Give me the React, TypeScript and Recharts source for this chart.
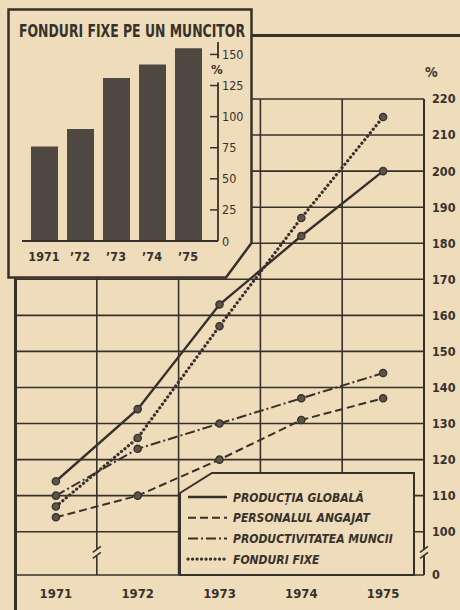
import React from 'react';
import {
  LineChart, Line, XAxis, YAxis, CartesianGrid, ReferenceLine, ReferenceDot, Legend,
  BarChart, Bar,
} from 'recharts';

// values (index, 1971 = 100)
const years = [1971, 1972, 1973, 1974, 1975];
const productiaGlobala = [114, 134, 163, 182, 200];
const personalulAngajat = [104, 110, 120, 131, 137];
const productivitateaMuncii = [110, 123, 130, 137, 144];
const fonduriFixe = [107, 126, 157, 187, 215];

// y axis is broken between 0 and 100: the "0" sits at 88 on the linear scale
const mainTicks = [88, 100, 110, 120, 130, 140, 150, 160, 170, 180, 190, 200, 210, 220];
const yearBorders = [1971.5, 1972.5, 1973.5, 1974.5];

// inset: fonduri fixe pe un muncitor
const insetLabels = ['1971', '’72', '’73', '’74', '’75'];
const fonduriPeMuncitor = [76, 90, 131, 142, 155];
const insetTicks = [0, 25, 50, 75, 100, 125, 150];

const INK = '#37312b';
const PAPER = '#eedcbb';
const FONT = "'DejaVu Sans Condensed', 'DejaVu Sans', sans-serif";

const series = [
  { key: 'productia', name: 'PRODUCȚIA GLOBALĂ', dash: undefined, width: 2.4, cap: 'butt' },
  { key: 'personalul', name: 'PERSONALUL ANGAJAT', dash: '8 4', width: 2, cap: 'butt' },
  { key: 'productivitatea', name: 'PRODUCTIVITATEA MUNCII', dash: '10 3 2 3', width: 2, cap: 'butt' },
  { key: 'fonduri', name: 'FONDURI FIXE', dash: '0.1 4.4', width: 3.2, cap: 'round' },
];

const mainData = years.map((year, i) => ({
  year,
  productia: productiaGlobala[i],
  personalul: personalulAngajat[i],
  productivitatea: productivitateaMuncii[i],
  fonduri: fonduriFixe[i],
}));

const insetData = insetLabels.map((label, i) => ({ label, value: fonduriPeMuncitor[i] }));

const Marker = (props: any) => {
  const { cx, cy } = props;
  if (cx == null || cy == null) return null;
  return <circle key={`${cx}-${cy}`} cx={cx} cy={cy} r={3.6} fill="#5d554d" stroke={INK} strokeWidth={1.4} />;
};

const BreakMark = (props: any) => {
  const { cx, cy } = props;
  return (
    <g>
      <rect x={cx - 3} y={cy - 4} width={6} height={6} fill={PAPER} />
      <path d={`M${cx - 4},${cy - 1} L${cx + 4},${cy - 7}`} stroke={INK} strokeWidth={1.5} />
      <path d={`M${cx - 4},${cy + 5} L${cx + 4},${cy - 1}`} stroke={INK} strokeWidth={1.5} />
    </g>
  );
};

const LegendBox = () => (
  <svg width={236} height={104} style={{ display: 'block' }}>
    <polygon points="1,21 33,1 235,1 235,103 1,103" fill={PAPER} stroke={INK} strokeWidth={2} />
    {series.map((s, i) => {
      const y = 25 + i * 20.7;
      return (
        <g key={s.key}>
          <line x1={9} x2={48} y1={y} y2={y} stroke={INK} strokeWidth={s.width}
            strokeDasharray={s.dash} strokeLinecap={s.cap as any} />
          <text x={54} y={y + 4.5} fontFamily={FONT} fontSize={12} fontWeight="bold"
            fontStyle="italic" fill={INK}>{s.name}</text>
        </g>
      );
    })}
  </svg>
);

// ticks point inwards; the axis stops at 125 and the % sign sits above it
const InsetTick = (props: any) => {
  const { x, y, payload } = props;
  const top = payload.value === 150;
  return (
    <g>
      {top && <rect x={x - 9} y={y + 3} width={8} height={25} fill={PAPER} />}
      <line x1={x - 12} x2={x - 4} y1={y} y2={y} stroke={INK} strokeWidth={1.5} />
      {top && <line x1={x - 4} x2={x - 4} y1={y} y2={y + 4} stroke={INK} strokeWidth={1.5} />}
      <text x={x} y={y + 4.5} fontFamily={FONT} fontSize={12.5} fill={INK}>{payload.value}</text>
      {top && <text x={x - 11} y={y + 20} fontFamily={FONT} fontSize={13} fontWeight="bold" fill={INK}>%</text>}
    </g>
  );
};

const Inset = () => (
  <div style={{ position: 'absolute', left: 7, top: 8, width: 246, height: 271 }}>
    <svg width={290} height={271} style={{ position: 'absolute', left: 0, top: 0 }}>
      <polygon points="1.5,1.5 244.5,1.5 244.5,235 219,269.5 1.5,269.5" fill={PAPER} stroke={INK} strokeWidth={2.5} />
      <text x={12} y={25.5} transform="scale(1,1.14)" textLength={226} lengthAdjust="spacingAndGlyphs"
        fontFamily={FONT} fontSize={15} fontWeight="bold" fill={INK}>FONDURI FIXE PE UN MUNCITOR</text>
    </svg>
    <div style={{ position: 'absolute', left: 0, top: 0 }}>
      <BarChart width={246} height={271} data={insetData} margin={{ top: 34, right: 0, bottom: 0, left: 15 }}>
        <XAxis dataKey="label" height={38} padding={{ left: 4, right: 12 }} tickLine={false} tickSize={0}
          tickMargin={11} axisLine={{ stroke: INK, strokeWidth: 2 }}
          tick={{ fill: INK, fontFamily: FONT, fontSize: 12.5, fontWeight: 'bold' }} />
        <YAxis orientation="right" width={35} domain={[0, 160]} ticks={insetTicks} tickLine={false}
          tickSize={0} tickMargin={4} axisLine={{ stroke: INK, strokeWidth: 1.8 }} tick={<InsetTick />} />
        <Bar dataKey="value" barSize={27} fill="#4f4842" isAnimationActive={false} />
      </BarChart>
    </div>
  </div>
);

export default function App() {
  return (
    <div style={{ position: 'absolute', left: 0, top: 0, width: 460, height: 610, background: PAPER, overflow: 'hidden' }}>
      {/* outer frame of the main chart */}
      <div style={{ position: 'absolute', left: 14, top: 34, width: 460, height: 600, borderTop: `3px solid ${INK}`, borderLeft: `3px solid ${INK}` }} />
      <div style={{ position: 'absolute', left: 0, top: 0 }}>
        <LineChart width={460} height={610} data={mainData} margin={{ top: 99, right: 0, bottom: 0, left: 15 }}>
          <CartesianGrid vertical={false} stroke={INK} strokeWidth={1.6} />
          <XAxis dataKey="year" type="number" domain={[1970.5, 1975.5]} ticks={years} height={35}
            axisLine={false} tickLine={false} tickSize={0} tickMargin={14}
            tick={{ fill: INK, fontFamily: FONT, fontSize: 13, fontWeight: 'bold' }} />
          <YAxis orientation="right" width={36} domain={[88, 220]} ticks={mainTicks} tickLine={false}
            tickSize={0} tickMargin={8} axisLine={{ stroke: INK, strokeWidth: 2 }}
            tickFormatter={(v: number) => (v === 88 ? '0' : String(v))}
            tick={{ fill: INK, fontFamily: FONT, fontSize: 12.5, fontWeight: 'bold' }} />
          {yearBorders.map((x) => (
            <ReferenceLine key={x} x={x} stroke={INK} strokeWidth={1.6} />
          ))}
          <ReferenceDot x={1971.5} y={94} r={0} shape={<BreakMark />} />
          <ReferenceDot x={1975.5} y={94} r={0} shape={<BreakMark />} />
          {series.map((s) => (
            <Line key={s.key} dataKey={s.key} name={s.name} stroke={INK} strokeWidth={s.width}
              strokeDasharray={s.dash} strokeLinecap={s.cap as any} dot={<Marker />}
              activeDot={false} isAnimationActive={false} />
          ))}
          <Legend layout="horizontal" verticalAlign="middle" align="center" content={<LegendBox />}
            wrapperStyle={{ position: 'absolute', left: 179, top: 472, width: 236, height: 104 }} />
        </LineChart>
      </div>
      <Inset />
      <div style={{ position: 'absolute', left: 425, top: 64, fontFamily: FONT, fontSize: 14, fontWeight: 'bold', color: INK }}>%</div>
    </div>
  );
}
